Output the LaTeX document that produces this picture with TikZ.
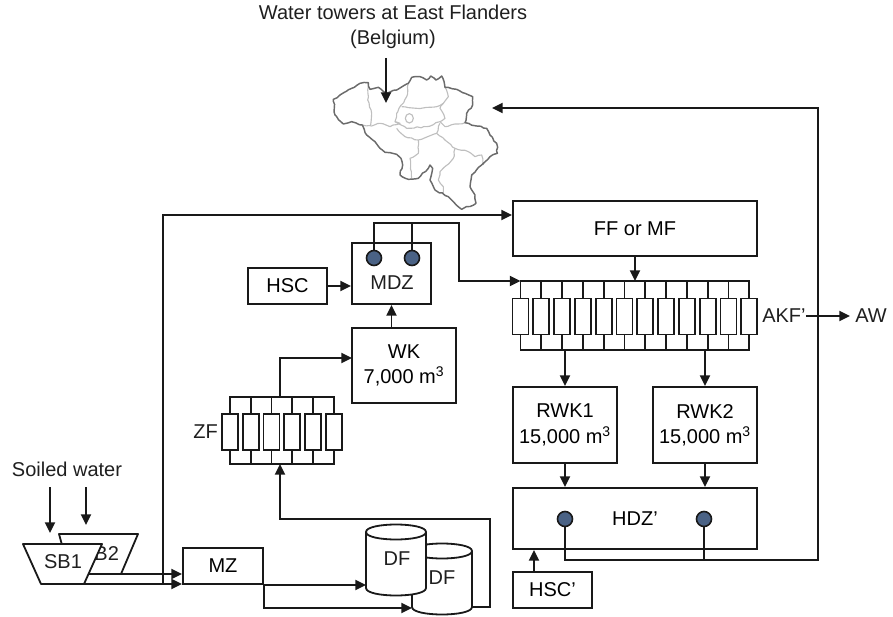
\documentclass[tikz,border=0pt]{standalone}
\usepackage{fontspec}
\setmainfont{Liberation Sans}
\usetikzlibrary{arrows.meta,decorations.pathmorphing}
\definecolor{valve}{HTML}{4A6285}
\def\u{.75pt}
\pgfmathsetseed{7}
\tikzset{
  ln/.style={line width=1.35pt,draw=black!90},
  arr/.style={ln,-{Triangle[length=8pt,width=7.5pt]}},
  bx/.style 2 args={draw=black!90,line width=1.5pt,fill=white,inner sep=0pt,align=center,minimum width=#1*\u,minimum height=#2*\u},
  tube/.style={draw=black!90,line width=1.25pt,fill=white,inner sep=0pt,minimum width=16*\u,minimum height=36*\u},
  valvec/.style={circle,draw=black!90,line width=1.2pt,fill=valve,inner sep=0pt,minimum size=15*\u},
  lab/.style={inner sep=0pt,align=center,text=black!88},
  mapo/.style={draw=black!58,line width=1.1pt,line join=round,decorate,decoration={random steps,segment length=2.6pt,amplitude=.55pt}},
  mapi/.style={draw=black!25,line width=.85pt,line join=round,decorate,decoration={random steps,segment length=2.6pt,amplitude=.5pt}},
}
\begin{document}
\begin{tikzpicture}[x=.75pt,y=-.75pt,font=\fontsize{15}{19}\selectfont]
\useasboundingbox (0,0) rectangle (893,617);
% map of Belgium
\begin{scope}[shift={(280,0)},x=.25pt,y=-.25pt]
\draw[mapi] (265,248)--(263,300)--(275,340)--(272,375);
\draw[mapi] (247,375)--(275,378)--(300,370)--(330,380)--(360,370)--(345,365);
\draw[mapi] (385,250)--(380,290)--(350,340)--(345,365)--(380,385)--(440,380)--(480,365)--(495,380)--(555,368);
\draw[mapi] (365,320)--(410,325)--(470,320)--(490,310)--(505,290)--(495,262);
\draw[mapi] (490,310)--(480,325)--(495,355)--(480,365);
\draw[draw=black!25,line width=.85pt] (388,355) ellipse [x radius=12,y radius=14];
\draw[mapi] (350,385)--(375,410)--(415,420)--(470,400)--(480,370);
\draw[mapi] (415,420)--(415,460)--(390,475)--(395,535);
\draw[mapi] (470,400)--(525,445)--(565,455)--(585,470)--(605,465)--(610,495);
\draw[mapi] (525,445)--(520,475)--(480,515)--(475,540)--(490,560)--(490,580);
\draw[mapo] (160,298)--(180,285)--(215,265)--(240,250)--(265,248)--(270,268)--(295,262)--(320,280)--(350,270)--(385,250)--(395,232)--(420,230)--(440,240)--(452,228)--(468,240)--(485,228)--(495,262)--(530,268)--(555,280)--(578,290)--(578,315)--(560,340)--(555,368)--(590,378)--(620,385)--(630,405)--(650,430)--(652,460)--(630,470)--(605,495)--(575,525)--(570,560)--(585,585)--(588,610)--(545,628)--(505,590)--(465,570)--(450,540)--(458,505)--(450,495)--(445,505)--(415,535)--(385,538)--(360,525)--(368,495)--(363,475)--(350,463)--(315,457)--(300,445)--(285,425)--(260,405)--(247,375)--(215,365)--(190,372)--(165,345)--cycle;
\end{scope}
% title
\node[lab] (title) at (393,27) {Water towers at East Flanders\\(Belgium)};
\coordinate (titlefrom) at (386,58);
\coordinate (titleto) at (386,103);
\draw[arr] (titlefrom) -- (titleto);
% boxes
\node[bx={244}{55}] (ff) at (635,228.5) {FF or MF};
\node[bx={79}{36}] (hsc) at (287.5,286) {HSC};
\node[bx={79}{61}] (mdz) at (391.5,273.5) {};
\node[lab] (mdzt) at (392,283) {MDZ};
\node[bx={104}{75}] (wk) at (404,365.5) {WK\\7,000 m\textsuperscript{3}};
\node[bx={104}{76}] (rwka) at (565,425) {RWK1\\15,000 m\textsuperscript{3}};
\node[bx={104}{76}] (rwkb) at (705,425) {RWK2\\15,000 m\textsuperscript{3}};
\node[bx={244}{61}] (hdz) at (635,518.5) {HDZ’};
\node[bx={79}{36}] (hscp) at (552.5,590) {HSC’};
\node[bx={80}{36}] (mz) at (223,566) {MZ};
% valves
\node[valvec] (va) at (374,258) {};
\node[valvec] (vb) at (412,258) {};
\node[valvec] (vc) at (565,519) {};
\node[valvec] (vd) at (704,519) {};
% AKF' filter bank
\coordinate (akfT) at (0,281);
\coordinate (akfB) at (0,350);
\foreach \i in {1,...,12}{
  \node[tube] (akf\i) at ({520.5+(\i-1)*20.8},316.5) {};
  \draw[ln] (akf\i.north) -- (akf\i.north |- akfT);
  \draw[ln] (akf\i.south) -- (akf\i.south |- akfB);
}
\draw[ln,line cap=rect] (akf1.north |- akfT) -- (akf12.north |- akfT);
\draw[ln,line cap=rect] (akf1.south |- akfB) -- (akf12.south |- akfB);
% ZF filter bank
\coordinate (zfT) at (0,397);
\coordinate (zfB) at (0,464);
\foreach \i in {1,...,6}{
  \node[tube] (zf\i) at ({230+(\i-1)*20.75},432) {};
  \draw[ln] (zf\i.north) -- (zf\i.north |- zfT);
  \draw[ln] (zf\i.south) -- (zf\i.south |- zfB);
}
\draw[ln,line cap=rect] (zf1.north |- zfT) -- (zf6.north |- zfT);
\draw[ln,line cap=rect] (zf1.south |- zfB) -- (zf6.south |- zfB);
\node[lab,anchor=east] (zfl) at (218,432) {ZF};
\node[lab,anchor=west] (akfl) at (762,316) {AKF’};
\node[lab,anchor=west] (aw) at (855,316) {AW};
% settling basins
\draw[ln,fill=white,line join=round] (59,534)--(138,534)--(121,574)--(70,574)--cycle;
\node[lab] (sbb) at (100,554) {SB2};
\draw[ln,fill=white,line join=round] (23,544)--(102,544)--(84,584)--(41,584)--cycle;
\node[lab] (sba) at (63,562) {SB1};
\node[lab] (soiled) at (67,469) {Soiled water};
\coordinate (sa) at (50,487); \coordinate (sae) at (50,533);
\coordinate (sb) at (86,487); \coordinate (sbe) at (86,525);
\draw[arr] (sa) -- (sae);
\draw[arr] (sb) -- (sbe);
% digesters
\draw[ln,fill=white] (412,551) -- (412,607) .. controls (412,617) and (472,617) .. (472,607) -- (472,551) .. controls (472,541) and (412,541) .. (412,551) .. controls (412,561) and (472,561) .. (472,551);
\node[lab] (dfb) at (442,578) {DF};
\draw[ln,fill=white] (366,532) -- (366,588) .. controls (366,598) and (426,598) .. (426,588) -- (426,532) .. controls (426,522) and (366,522) .. (366,532) .. controls (366,542) and (426,542) .. (426,532);
\node[lab] (dfa) at (397,559) {DF};
% connectors
\coordinate (sbbo) at (90,574);
\coordinate (sbao) at (84,584);
\draw[arr] (sbbo) -- (sbbo -| mz.west);
\draw[arr] (sbao) -- (sbao -| mz.west);
\coordinate (trunk) at (163,584);
\coordinate (ffin) at (512,215);
\draw[arr] (trunk) |- (ffin);
\coordinate (dfain) at (366,585);
\coordinate (dfbin) at (412,608);
\draw[arr] (mz.south east) -- (mz.south east |- dfain) -- (dfain);
\draw[arr] (mz.south east) |- (dfbin);
\coordinate (dfbout) at (472,607);
\coordinate (dfbturn) at (490,519);
\coordinate (zfin) at (280,464);
\draw[arr] (dfbout) -| (dfbturn) -| (zfin);
\coordinate (zfout) at (280,397);
\coordinate (wkin) at (352,358);
\draw[arr] (zfout) |- (wkin);
\draw[arr] (wk.north -| mdz.south) -- (mdz.south);
\draw[arr] (hsc.east) -- (hsc.east -| mdz.west);
\coordinate (mtop) at (0,223);
\coordinate (mturn) at (459,281);
\coordinate (akfin) at (520.5,281);
\draw[ln] (va.north) -- (va.north |- mtop) -- (vb.north |- mtop) -- (vb.north);
\draw[arr] (vb.north |- mtop) -| (mturn) -- (akfin);
\draw[arr] (ff.south) -- (ff.south |- akfT);
\draw[arr] (rwka.north |- akfB) -- (rwka.north);
\draw[arr] (rwkb.north |- akfB) -- (rwkb.north);
\draw[arr] (rwka.south) -- (rwka.south |- hdz.north);
\draw[arr] (rwkb.south) -- (rwkb.south |- hdz.north);
\coordinate (hscq) at (534,572);
\draw[arr] (hscq) -- (hscq |- hdz.south);
\coordinate (back) at (0,560);
\coordinate (mapin) at (492,108);
\coordinate (backturn) at (818,560);
\draw[arr] (vc.south) |- (backturn) |- (mapin);
\draw[ln] (vd.south) -- (vd.south |- back);
\draw[arr] (akfl.east) -- ([xshift=-5*\u]aw.west);
\end{tikzpicture}
\end{document}
